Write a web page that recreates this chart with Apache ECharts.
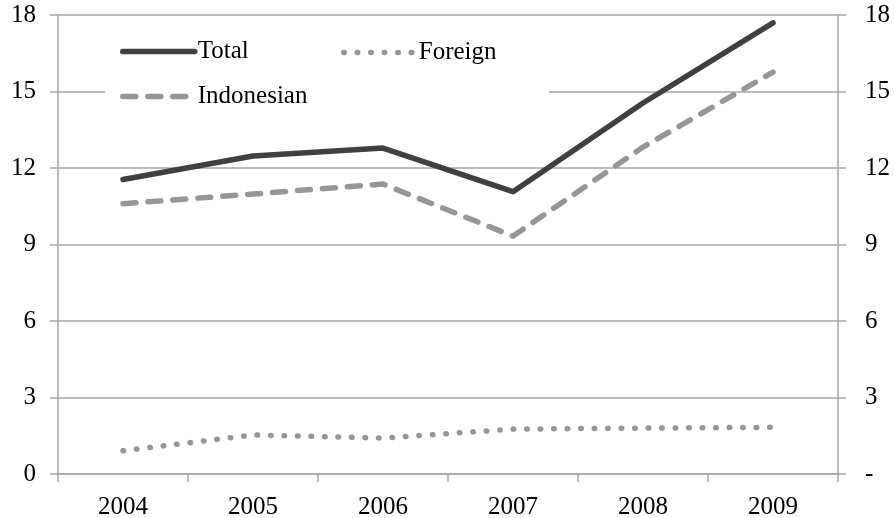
<!DOCTYPE html>
<html>
<head>
<meta charset="utf-8">
<script src="https://cdn.jsdelivr.net/npm/echarts@6/dist/echarts.min.js"></script>
<style>
  html, body { margin: 0; padding: 0; background: #fff; }
  #chart { width: 894px; height: 518px; }
</style>
</head>
<body>
<div id="chart"></div>
<script>
const years = ['2004', '2005', '2006', '2007', '2008', '2009']
const total = [11.55, 12.47, 12.78, 11.07, 14.55, 17.69]
const foreign = [0.91, 1.53, 1.41, 1.76, 1.8, 1.83]
const indonesian = [10.6, 10.98, 11.37, 9.33, 12.82, 15.76]

const font = 'Liberation Serif'
const gridColor = '#a6a6a6'

let myChart = echarts.init(document.getElementById('chart'))

function legendAt (name, left, top, dash) {
  return {
    data: [name],
    left: left,
    top: top,
    padding: 0,
    itemWidth: 72,
    itemHeight: 14,
    itemGap: 0,
    selectedMode: false,
    itemStyle: { opacity: 0 },
    lineStyle: { width: 5.5, type: dash, cap: 'round' },
    textStyle: { fontFamily: font, fontSize: 25, color: '#000', padding: [0, 0, 0, -2] }
  }
}

function axisY (pos, fmt, margin) {
  return {
    type: 'value',
    position: pos,
    min: 0,
    max: 18,
    interval: 3,
    axisLine: { show: true, lineStyle: { color: gridColor, width: 1.5 } },
    axisTick: { show: true, inside: false, length: 8, lineStyle: { color: gridColor, width: 1.5 } },
    axisLabel: { fontFamily: font, fontSize: 25, color: '#000', margin: margin, formatter: fmt },
    splitLine: { show: pos === 'left', lineStyle: { color: gridColor, width: 1.5 } }
  }
}

myChart.setOption({
  animation: false,
  backgroundColor: '#fff',
  grid: { left: 58, right: 56, top: 15, bottom: 44, containLabel: false, outerBoundsMode: 'none' },
  legend: [
    legendAt('Total', 120, 39, 'solid'),
    legendAt('Foreign', 341, 40, [0.5, 13]),
    legendAt('Indonesian', 120, 84, [13, 12])
  ],
  graphic: [{
    type: 'rect',
    z: 1,
    shape: { x: 105, y: 28, width: 444, height: 84 },
    style: { fill: '#fff' }
  }],
  xAxis: {
    type: 'category',
    data: years,
    boundaryGap: true,
    axisLine: { lineStyle: { color: gridColor, width: 1.5 } },
    axisTick: { show: true, length: 8, alignWithLabel: false, lineStyle: { color: gridColor, width: 1.5 } },
    axisLabel: { fontFamily: font, fontSize: 25, color: '#000', margin: 21 }
  },
  yAxis: [
    axisY('left', v => String(v), 22),
    axisY('right', v => (v === 0 ? '-' : String(v)), 27)
  ],
  series: [{
    name: 'Total',
    type: 'line',
    data: total,
    symbol: 'none',
    z: 3,
    lineStyle: { color: '#404040', width: 5.5, cap: 'round', join: 'round' },
    itemStyle: { color: '#404040' }
  }, {
    name: 'Foreign',
    type: 'line',
    data: foreign,
    symbol: 'none',
    z: 3,
    lineStyle: { color: '#969696', width: 5.5, type: [0.5, 13], cap: 'round', join: 'round' },
    itemStyle: { color: '#969696' }
  }, {
    name: 'Indonesian',
    type: 'line',
    data: indonesian,
    symbol: 'none',
    z: 3,
    lineStyle: { color: '#969696', width: 5.5, type: [13, 12], cap: 'round', join: 'round' },
    itemStyle: { color: '#969696' }
  }]
})
</script>
</body>
</html>
